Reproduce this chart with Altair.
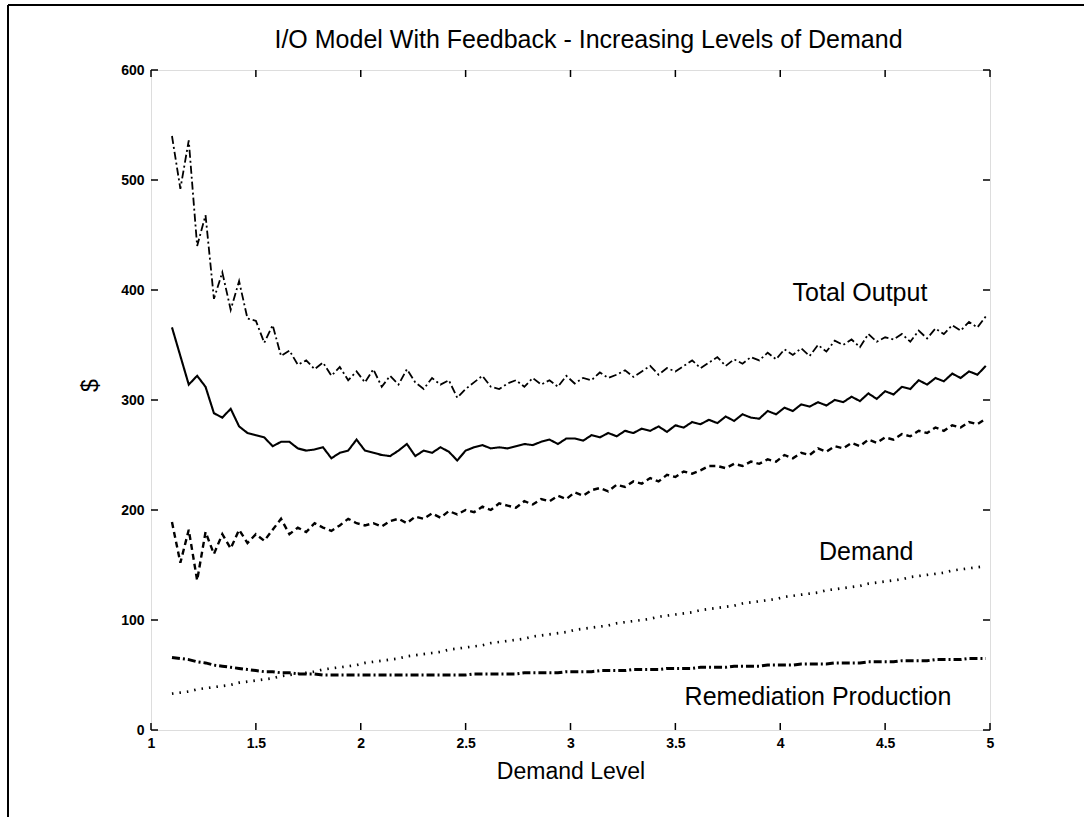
import numpy as np
import pandas as pd
import altair as alt

# Demand levels: 1.10 to 4.98 in steps of 0.04
X_START, X_STEP, N_POINTS = 1.10, 0.04, 98
demand_level = np.round(X_START + X_STEP * np.arange(N_POINTS), 2)

# Upper band of total output (dash-dot)
output_upper = [
    540, 492, 536, 440, 468, 392, 416, 382, 408, 374,
    372, 352, 368, 340, 345, 332, 336, 328, 334, 322,
    330, 318, 326, 316, 328, 312, 322, 314, 328, 316,
    310, 320, 314, 318, 302, 310, 316, 322, 312, 310,
    315, 318, 312, 320, 314, 318, 312, 322, 315, 320,
    318, 325, 320, 323, 327, 321, 326, 331, 323, 329,
    326, 331, 336, 329, 334, 339, 331, 337, 333, 339,
    336, 343, 337, 346, 341, 347, 340, 350, 344, 354,
    350, 355, 348, 360, 353, 357, 355, 360, 353, 363,
    356, 365, 360, 368, 363, 371, 366, 376,
]

# Total output (solid)
output_mean = [
    366, 340, 314, 322, 312, 288, 284, 292, 276, 270,
    268, 266, 258, 262, 262, 256, 254, 255, 257, 247,
    252, 254, 264, 254, 252, 250, 249, 254, 260, 249,
    254, 252, 257, 253, 245, 254, 257, 259, 256, 257,
    256, 258, 260, 259, 262, 264, 260, 265, 265, 263,
    268, 266, 270, 267, 272, 270, 274, 272, 276, 271,
    277, 275, 280, 278, 282, 279, 285, 281, 287, 284,
    283, 290, 287, 293, 290, 296, 294, 298, 295, 300,
    298, 303, 299, 306, 301, 308, 305, 312, 310, 318,
    314, 320, 317, 324, 320, 326, 323, 331,
]

# Lower band of total output (dashed)
output_lower = [
    189, 152, 182, 136, 180, 160, 178, 165, 182, 170,
    178, 172, 182, 192, 178, 184, 180, 188, 184, 181,
    186, 192, 188, 186, 188, 185, 190, 192, 188, 194,
    192, 197, 193, 199, 196, 200, 198, 203, 200, 206,
    204, 202, 208, 205, 210, 208, 213, 210, 216, 213,
    218, 220, 217, 223, 221, 226, 224, 229, 226, 232,
    230, 235, 233, 236, 240, 240, 238, 242, 240, 244,
    242, 246, 244, 250, 247, 252, 250, 256, 253, 258,
    256, 261, 258, 264, 261, 266, 264, 269, 267, 272,
    270, 275, 272, 277, 275, 280, 278, 283,
]

# Final demand (dotted)
demand = [
    33, 34, 35, 37, 38, 39, 40, 41, 43, 44,
    45, 46, 47, 49, 50, 51, 52, 53, 55, 56,
    57, 58, 59, 61, 62, 63, 64, 65, 67, 68,
    69, 70, 71, 73, 74, 75, 76, 77, 79, 80,
    81, 82, 83, 85, 86, 87, 88, 89, 91, 92,
    93, 94, 95, 97, 98, 99, 100, 101, 103, 104,
    105, 106, 107, 109, 110, 111, 112, 113, 115, 116,
    117, 118, 119, 121, 122, 123, 124, 125, 127, 128,
    129, 130, 131, 133, 134, 135, 136, 137, 139, 140,
    141, 142, 143, 145, 146, 147, 148, 149,
]

# Remediation production (dash-dot)
remediation = [
    66, 65, 64, 62, 61, 59, 58, 57, 56, 55,
    54, 53, 53, 52, 52, 51, 51, 51, 50, 50,
    50, 50, 50, 50, 50, 50, 50, 50, 50, 50,
    50, 50, 50, 50, 50, 50, 51, 51, 51, 51,
    51, 51, 52, 52, 52, 52, 52, 53, 53, 53,
    53, 54, 54, 54, 54, 55, 55, 55, 55, 56,
    56, 56, 56, 57, 57, 57, 57, 58, 58, 58,
    58, 59, 59, 59, 59, 60, 60, 60, 60, 61,
    61, 61, 61, 62, 62, 62, 62, 63, 63, 63,
    63, 64, 64, 64, 64, 65, 65, 65,
]

SERIES = ["Output (upper)", "Total Output", "Output (lower)", "Demand", "Remediation Production"]
SERIES_VALUES = [output_upper, output_mean, output_lower, demand, remediation]
DASHES = [[8, 3, 2, 3], [1, 0], [6, 4], [1.5, 6], [8, 3, 2, 3]]
WIDTHS = [1.8, 3.0, 1.8, 1.5, 1.8]

# In-plot labels
LABEL_TEXT = ["Total Output", "Demand", "Remediation Production"]
LABEL_LEVEL = [4.38, 4.41, 4.18]
LABEL_VALUE = [397, 162, 30]

TITLE = "I/O Model With Feedback - Increasing Levels of Demand"

X_TICKS = [1, 1.5, 2, 2.5, 3, 3.5, 4, 4.5, 5]
Y_TICKS = [0, 100, 200, 300, 400, 500, 600]

FONT = "Liberation Sans"
W, H = 839, 660
PAD_LEFT, PAD_TOP = 151, 70
TICK_LEN = 7

lines_df = pd.concat(
    [pd.DataFrame({"level": demand_level, "value": vals, "series": name})
     for name, vals in zip(SERIES, SERIES_VALUES)],
    ignore_index=True,
)
labels_df = pd.DataFrame({"level": LABEL_LEVEL, "value": LABEL_VALUE, "label": LABEL_TEXT})
xticks_df = pd.DataFrame({"level": X_TICKS})
yticks_df = pd.DataFrame({"value": Y_TICKS})
one_row = pd.DataFrame({"k": [0]})

x_scale = alt.Scale(domain=[1, 5], nice=False, zero=False)
y_scale = alt.Scale(domain=[0, 600], nice=False, zero=False)

x_axis = alt.Axis(
    values=X_TICKS, format="~g", grid=False, ticks=False, domain=False,
    labelFont=FONT, labelFontSize=14, labelFontWeight="bold", labelColor="black",
    labelPadding=6, labelFlush=False, labelOverlap=False,
    titleFont=FONT, titleFontSize=23, titleFontWeight="normal", titleColor="black",
    titlePadding=10,
)
y_axis = alt.Axis(
    values=Y_TICKS, grid=False, ticks=False, domain=False,
    labelFont=FONT, labelFontSize=14, labelFontWeight="bold", labelColor="black",
    labelPadding=7, labelFlush=False, labelOverlap=False,
    titleFont=FONT, titleFontSize=23, titleFontWeight="normal", titleColor="black",
    titleX=-61, titleY=315, titleBaseline="middle",
)

lines = alt.Chart(lines_df).mark_line(color="black").encode(
    x=alt.X("level:Q", scale=x_scale, axis=x_axis, title="Demand Level"),
    y=alt.Y("value:Q", scale=y_scale, axis=y_axis, title="$"),
    detail="series:N",
    strokeDash=alt.StrokeDash("series:N", scale=alt.Scale(domain=SERIES, range=DASHES), legend=None),
    strokeWidth=alt.StrokeWidth("series:N", scale=alt.Scale(domain=SERIES, range=WIDTHS), legend=None),
)

labels = alt.Chart(labels_df).mark_text(
    font=FONT, fontSize=25, align="center", baseline="middle", color="black"
).encode(x="level:Q", y="value:Q", text="label:N")

# Chart heading, set just above the box
heading = alt.Chart(one_row).mark_text(
    text=TITLE, font=FONT, fontSize=25, align="center", baseline="alphabetic", color="black"
).encode(x=alt.value(W / 2 + 18), y=alt.value(-22))

# Inward tick marks on all four sides of the box
tick_bottom = alt.Chart(xticks_df).mark_rule(color="black", strokeWidth=1.5).encode(
    x="level:Q", y=alt.value(H), y2=alt.value(H - TICK_LEN))
tick_top = alt.Chart(xticks_df).mark_rule(color="black", strokeWidth=1.5).encode(
    x="level:Q", y=alt.value(0), y2=alt.value(TICK_LEN))
tick_left = alt.Chart(yticks_df).mark_rule(color="black", strokeWidth=1.5).encode(
    y="value:Q", x=alt.value(0), x2=alt.value(TICK_LEN))
tick_right = alt.Chart(yticks_df).mark_rule(color="black", strokeWidth=1.5).encode(
    y="value:Q", x=alt.value(W - TICK_LEN), x2=alt.value(W))

# Page frame along the top and left edges
frame_top = alt.Chart(one_row).mark_rule(color="black", strokeWidth=2).encode(
    x=alt.value(8 - PAD_LEFT), x2=alt.value(1084 - PAD_LEFT), y=alt.value(5 - PAD_TOP))
frame_left = alt.Chart(one_row).mark_rule(color="black", strokeWidth=2).encode(
    x=alt.value(8 - PAD_LEFT), y=alt.value(5 - PAD_TOP), y2=alt.value(817 - PAD_TOP))

chart = alt.layer(
    lines, labels, heading, tick_bottom, tick_top, tick_left, tick_right, frame_top, frame_left
).properties(
    width=W,
    height=H,
    autosize="none",
    padding={"left": PAD_LEFT, "top": PAD_TOP, "right": 1084 - PAD_LEFT - W, "bottom": 817 - PAD_TOP - H},
).configure_view(
    stroke="black", strokeWidth=2
).configure(background="white")

chart.save("out.html", embed_options={"renderer": "svg", "actions": False})
